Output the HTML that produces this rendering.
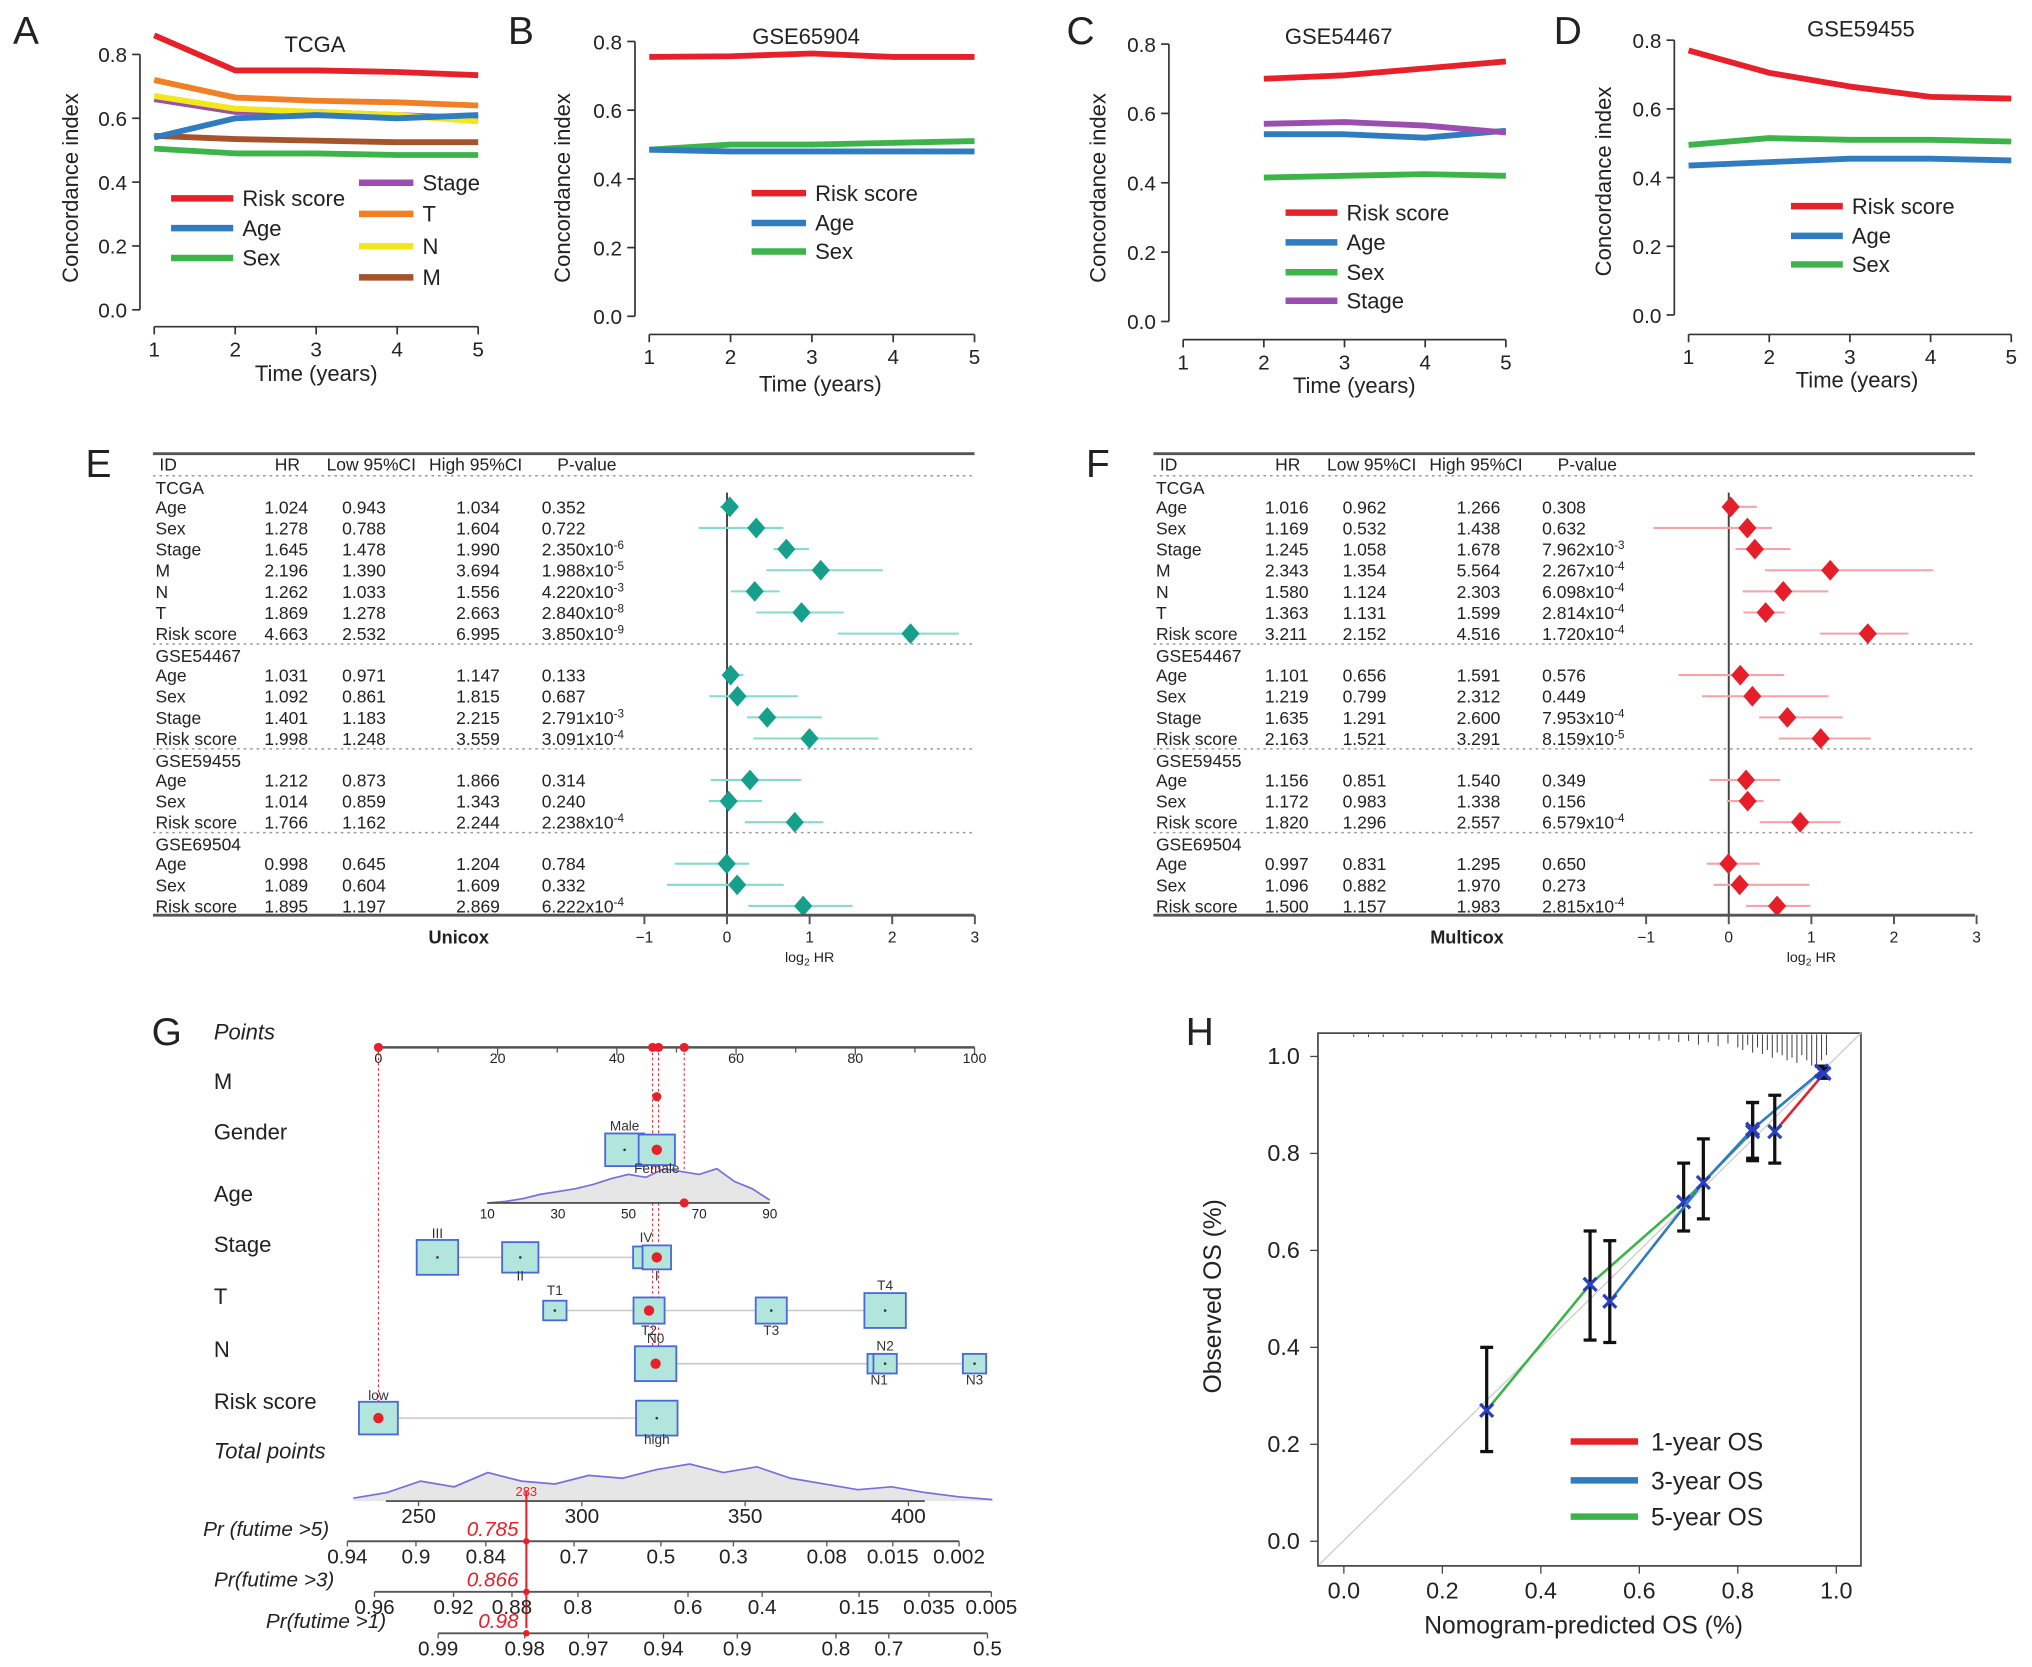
<!DOCTYPE html>
<html><head><meta charset="utf-8"><title>Prognostic model figure</title>
<style>
html,body{margin:0;padding:0;background:#fff;}
svg{display:block;font-family:"Liberation Sans",Arial,sans-serif;}
</style></head>
<body>
<svg id="fig" xmlns="http://www.w3.org/2000/svg" width="2032" height="1667" viewBox="0 0 1568 1286" preserveAspectRatio="none"></svg>
<script>
// ===== Panel A-D data =====
const years=[1,2,3,4,5];
const yearsC=[2,3,4,5];
const yTicks=[0,0.2,0.4,0.6,0.8];
const aRisk=[0.86,0.75,0.75,0.745,0.735];
const aStage=[0.66,0.62,0.62,0.61,0.60];
const aT=[0.72,0.665,0.655,0.65,0.64];
const aN=[0.67,0.63,0.62,0.61,0.59];
const aM=[0.545,0.535,0.53,0.525,0.525];
const aAge=[0.54,0.60,0.61,0.60,0.61];
const aSex=[0.505,0.49,0.49,0.485,0.485];
const bRisk=[0.755,0.757,0.765,0.755,0.755];
const bAge=[0.485,0.48,0.48,0.48,0.48];
const bSex=[0.485,0.50,0.50,0.505,0.51];
const cRisk=[0.70,0.71,0.73,0.75];
const cStage=[0.57,0.575,0.565,0.545];
const cAge=[0.54,0.54,0.53,0.55];
const cSex=[0.415,0.42,0.425,0.42];
const dRisk=[0.77,0.705,0.665,0.635,0.63];
const dSex=[0.495,0.515,0.51,0.51,0.505];
const dAge=[0.435,0.445,0.455,0.455,0.45];

// ===== Panel E/F data =====
const groupNames=['TCGA','GSE54467','GSE59455','GSE69504'];
const groupSizes=[7,4,3,3];
const rowIds=['Age','Sex','Stage','M','N','T','Risk score','Age','Sex','Stage','Risk score','Age','Sex','Risk score','Age','Sex','Risk score'];
const eHR=[1.024,1.278,1.645,2.196,1.262,1.869,4.663,1.031,1.092,1.401,1.998,1.212,1.014,1.766,0.998,1.089,1.895];
const eLo=[0.943,0.788,1.478,1.390,1.033,1.278,2.532,0.971,0.861,1.183,1.248,0.873,0.859,1.162,0.645,0.604,1.197];
const eHi=[1.034,1.604,1.990,3.694,1.556,2.663,6.995,1.147,1.815,2.215,3.559,1.866,1.343,2.244,1.204,1.609,2.869];
const eP=['0.352','0.722','2.350x10^-6','1.988x10^-5','4.220x10^-3','2.840x10^-8','3.850x10^-9','0.133','0.687','2.791x10^-3','3.091x10^-4','0.314','0.240','2.238x10^-4','0.784','0.332','6.222x10^-4'];
const fHR=[1.016,1.169,1.245,2.343,1.580,1.363,3.211,1.101,1.219,1.635,2.163,1.156,1.172,1.820,0.997,1.096,1.500];
const fLo=[0.962,0.532,1.058,1.354,1.124,1.131,2.152,0.656,0.799,1.291,1.521,0.851,0.983,1.296,0.831,0.882,1.157];
const fHi=[1.266,1.438,1.678,5.564,2.303,1.599,4.516,1.591,2.312,2.600,3.291,1.540,1.338,2.557,1.295,1.970,1.983];
const fP=['0.308','0.632','7.962x10^-3','2.267x10^-4','6.098x10^-4','2.814x10^-4','1.720x10^-4','0.576','0.449','7.953x10^-4','8.159x10^-5','0.349','0.156','6.579x10^-4','0.650','0.273','2.815x10^-4'];
const forestTicks=[-1,0,1,2,3];

// ===== Panel G data =====
const pointTicks=[0,20,40,60,80,100];
const selPoints=[0,46,47,51.3];
const stageLv=['III','II','IV','I'];
const stagePts=[9.9,23.8,44.9,46.7];
const tLv=['T1','T2','T3','T4'];
const tPts=[29.6,45.4,65.9,85];
const nLv=['N0','N1','N2','N3'];
const nPts=[46.5,84,85,100];
const riskLv=['low','high'];
const riskPts=[0,46.7];
const genderLv=['Male','Female'];
const genderPts=[41.3,46.7];
const ageTicks=[10,30,50,70,90];
const ageDens=[0,1,3,6,8,10,13,17,20,18,24,22,20,24,15,10,2];
const totalTicks=[250,300,350,400];
const totalDens=[2,6,14,10,20,14,12,18,16,22,26,20,24,16,12,8,10,6,3,1];
const totalSel=283;
const pr5Lab=['0.94','0.9','0.84','0.7','0.5','0.3','0.08','0.015','0.002'];
const pr5Tp=[228.2,249.2,270.6,297.6,324.2,346.4,375,395.2,415.5];
const pr3Lab=['0.96','0.92','0.88','0.8','0.6','0.4','0.15','0.035','0.005'];
const pr3Tp=[236.5,260.7,278.6,298.8,332.5,355.2,384.9,406.3,425.4];
const pr1Lab=['0.99','0.98','0.97','0.94','0.9','0.8','0.7','0.5'];
const pr1Tp=[256,282.5,302,325,347.6,377.8,394,424.2];

// ===== Panel H data =====
const hTicks=[0,0.2,0.4,0.6,0.8,1.0];
const h5Pred=[0.29,0.50,0.69,0.83];
const h5Obs=[0.27,0.53,0.70,0.845];
const h5Lo=[0.185,0.415,0.64,0.785];
const h5Hi=[0.40,0.64,0.78,0.905];
const h3Pred=[0.54,0.73,0.83,0.97];
const h3Obs=[0.495,0.74,0.85,0.97];
const h3Lo=[0.41,0.665,0.79,0.96];
const h3Hi=[0.62,0.83,0.905,0.98];
const h1Pred=[0.875,0.975];
const h1Obs=[0.845,0.965];
const h1Lo=[0.78,0.955];
const h1Hi=[0.92,0.975];
const rugPred=[0.02,0.05,0.08,0.12,0.16,0.2,0.24,0.27,0.3,0.33,0.36,0.39,0.42,0.45,0.48,0.5,0.52,0.55,0.58,0.6,0.62,0.64,0.66,0.68,0.7,0.72,0.74,0.76,0.78,0.8,0.81,0.82,0.83,0.84,0.85,0.86,0.87,0.88,0.89,0.9,0.91,0.92,0.93,0.94,0.95,0.96,0.97,0.98];
const rugLen=[2,2,2,2,2,2,2,2,3,2,2,3,2,3,2,4,3,3,4,3,4,5,4,6,5,8,6,9,7,10,12,8,14,10,15,12,18,14,16,20,18,22,16,20,24,26,20,16];

const NS='http://www.w3.org/2000/svg';
const svg=document.getElementById('fig');
function mk(tag,attrs,parent){const e=document.createElementNS(NS,tag);for(const k in attrs)e.setAttribute(k,attrs[k]);(parent||svg).appendChild(e);return e;}
function tx(s,x,y,size,opts,parent){const e=mk('text',Object.assign({x:x,y:y,'font-size':size,fill:'#222'},opts||{}),parent);e.textContent=s;return e;}

const C={red:'#e8202a',blue:'#2f7cc0',green:'#3cb44a',purple:'#9a4fb0',orange:'#f08023',yellow:'#f2e61d',brown:'#a5532b'};

// ---------- line panels ----------
function linePanel(p){
  const g=mk('g',{});
  
  
  const xs=v=>p.x1+(v-1)*(p.x5-p.x1)/4;
  const ys=v=>p.y0-v*(p.y0-p.y8)/0.8;
  const ax=mk('line',{x1:p.axX,y1:ys(0),x2:p.axX,y2:ys(0.8),stroke:'#333','stroke-width':1.3},g);
  
  
  yTicks.forEach(v=>{
    mk('line',{x1:p.axX-6,y1:ys(v),x2:p.axX,y2:ys(v),stroke:'#333','stroke-width':1.3},g);
    const t=tx(v.toFixed(1),p.axX-10,ys(v)+6,16,{'text-anchor':'end'},g);
    
    
  });
  const bx=mk('line',{x1:xs(1),y1:p.axY,x2:xs(5),y2:p.axY,stroke:'#333','stroke-width':1.3},g);
  
  
  years.forEach(v=>{
    mk('line',{x1:xs(v),y1:p.axY,x2:xs(v),y2:p.axY+6,stroke:'#333','stroke-width':1.3},g);
    const t=tx(String(v),xs(v),p.axY+23,16,{'text-anchor':'middle'},g);
    
    
  });
  const xl=tx('Time (years)',p.xlX,p.xlY,17,{'text-anchor':'middle'},g);
  
  
  const yl=tx('Concordance index',0,0,17,{'text-anchor':'middle',transform:'translate('+p.ylX+','+p.ylY+') rotate(-90)'},g);
  
  
  const ti=tx(p.title,p.tX,p.tY,17,{'text-anchor':'middle'},g);
  
  
  const lt=tx(p.letter,p.lX,p.lY,30,{},g);
  
  
  p.series.forEach(s=>{
    const pts=s.vals.map((v,i)=>xs(s.x[i])+','+ys(v)).join(' ');
    const pl=mk('polyline',{points:pts,fill:'none',stroke:s.color,'stroke-width':4.5,'stroke-linejoin':'round'},g);
    
    
  });
  p.legend.forEach(l=>{
    const le=mk('g',{},g);
    
    
    mk('line',{x1:l.x,y1:l.y,x2:l.x+l.w,y2:l.y,stroke:l.color,'stroke-width':5},le);
    tx(l.label,l.x+l.w+7,l.y+6,17,{},le);
  });
}
linePanel({name:'panel-a-tcga',letter:'A',lX:10,lY:34,title:'TCGA',tX:243,tY:40,x1:119,x5:369,y0:239,y8:42,axX:108,axY:252,xlX:244,xlY:294,ylX:60,ylY:145,
 series:[{key:'stage',x:years,vals:aStage,color:C.purple},{key:'n',x:years,vals:aN,color:C.yellow},{key:'m',x:years,vals:aM,color:C.brown},{key:'age',x:years,vals:aAge,color:C.blue},{key:'sex',x:years,vals:aSex,color:C.green},{key:'t',x:years,vals:aT,color:C.orange},{key:'risk',x:years,vals:aRisk,color:C.red}],
 legend:[{label:'Risk score',x:132,y:153,w:48,color:C.red},{label:'Age',x:132,y:176,w:48,color:C.blue},{label:'Sex',x:132,y:199,w:48,color:C.green},{label:'Stage',x:277,y:141,w:42,color:C.purple},{label:'T',x:277,y:165,w:42,color:C.orange},{label:'N',x:277,y:190,w:42,color:C.yellow},{label:'M',x:277,y:214,w:42,color:C.brown}]});
linePanel({name:'panel-b-gse65904',letter:'B',lX:392,lY:34,title:'GSE65904',tX:622,tY:34,x1:501,x5:752,y0:244,y8:32,axX:490,axY:258,xlX:633,xlY:302,ylX:440,ylY:145,
 series:[{key:'sex',x:years,vals:bSex,color:C.green},{key:'age',x:years,vals:bAge,color:C.blue},{key:'risk',x:years,vals:bRisk,color:C.red}],
 legend:[{label:'Risk score',x:580,y:149,w:42,color:C.red},{label:'Age',x:580,y:172,w:42,color:C.blue},{label:'Sex',x:580,y:194,w:42,color:C.green}]});
linePanel({name:'panel-c-gse54467',letter:'C',lX:823,lY:34,title:'GSE54467',tX:1033,tY:34,x1:913,x5:1162,y0:248,y8:34,axX:902,axY:262,xlX:1045,xlY:303,ylX:853,ylY:145,
 series:[{key:'sex',x:yearsC,vals:cSex,color:C.green},{key:'age',x:yearsC,vals:cAge,color:C.blue},{key:'stage',x:yearsC,vals:cStage,color:C.purple},{key:'risk',x:yearsC,vals:cRisk,color:C.red}],
 legend:[{label:'Risk score',x:992,y:164,w:40,color:C.red},{label:'Age',x:992,y:187,w:40,color:C.blue},{label:'Sex',x:992,y:210,w:40,color:C.green},{label:'Stage',x:992,y:232,w:40,color:C.purple}]});
linePanel({name:'panel-d-gse59455',letter:'D',lX:1199,lY:34,title:'GSE59455',tX:1436,tY:28,x1:1303,x5:1552,y0:243,y8:31,axX:1292,axY:258,xlX:1433,xlY:299,ylX:1243,ylY:140,
 series:[{key:'sex',x:years,vals:dSex,color:C.green},{key:'age',x:years,vals:dAge,color:C.blue},{key:'risk',x:years,vals:dRisk,color:C.red}],
 legend:[{label:'Risk score',x:1382,y:159,w:40,color:C.red},{label:'Age',x:1382,y:182,w:40,color:C.blue},{label:'Sex',x:1382,y:204,w:40,color:C.green}]});

// ---------- forest panels ----------
function pText(s,x,y,parent){
  const t=tx('',x,y,13.5,{},parent);
  const parts=s.split('^');
  const a=document.createElementNS(NS,'tspan');a.textContent=parts[0];t.appendChild(a);
  if(parts[1]){const b=document.createElementNS(NS,'tspan');b.setAttribute('dy',-5);b.setAttribute('font-size',9);b.textContent=parts[1];t.appendChild(b);}
  return t;
}
function forest(p){
  const g=mk('g',{});
  
  
  const o=p.ox;
  const xs=v=>p.zero+v*63.75;
  const lt=tx(p.letter,o+66,368,30,{},g);
  
  
  mk('line',{x1:o+118,y1:350,x2:o+752,y2:350,stroke:'#555','stroke-width':2.2},g);
  [['ID',123],['HR',212],['Low 95%CI',252],['High 95%CI',331],['P-value',430]].forEach(h=>{
    const t=tx(h[0],o+h[1],363,13.5,{},g);
    
    
  });
  mk('line',{x1:o+118,y1:367,x2:o+752,y2:367,stroke:'#999','stroke-width':1.2,'stroke-dasharray':'2,3'},g);
  let y=376, idx=0;
  const rowY=[];
  groupNames.forEach((gn,gi)=>{
    const gt=tx(gn,o+120,y+5,13.5,{},g);
    
    
    let ry=y+15;
    for(let k=0;k<groupSizes[gi];k++){rowY[idx]=ry;idx++;ry+=16.3;}
    const last=ry-16.3;
    if(gi<groupNames.length-1){
      mk('line',{x1:o+118,y1:last+8,x2:o+752,y2:last+8,stroke:'#999','stroke-width':1.2,'stroke-dasharray':'2,3'},g);
      y=last+17;
    }
  });
  mk('line',{x1:xs(0),y1:380,x2:xs(0),y2:706,stroke:'#444','stroke-width':1.5},g);
  rowIds.forEach((id,i)=>{
    const ry=rowY[i];
    const r=mk('g',{},g);
    
    
    tx(id,o+120,ry+5,13.5,{},r);
    tx(p.hr[i].toFixed(3),o+204,ry+5,13.5,{},r);
    tx(p.lo[i].toFixed(3),o+264,ry+5,13.5,{},r);
    tx(p.hi[i].toFixed(3),o+352,ry+5,13.5,{},r);
    pText(p.pv[i],o+418,ry+5,r);
    const ci=mk('line',{x1:xs(Math.log2(p.lo[i])),y1:ry,x2:xs(Math.log2(p.hi[i])),y2:ry,stroke:p.ciColor,'stroke-width':1.6},r);
    
    
    const cx=xs(Math.log2(p.hr[i]));
    const d=mk('polygon',{points:(cx-7)+','+ry+' '+cx+','+(ry-8)+' '+(cx+7)+','+ry+' '+cx+','+(ry+8),fill:p.color},r);
    
    
  });
  mk('line',{x1:o+118,y1:706,x2:o+752,y2:706,stroke:'#555','stroke-width':2.2},g);
  forestTicks.forEach(v=>{
    mk('line',{x1:xs(v),y1:706,x2:xs(v),y2:713,stroke:'#555','stroke-width':1.5},g);
    const t=tx(v<0?'\u22121':String(v),xs(v),727,12,{'text-anchor':'middle'},g);
    
    
  });
  const xl=tx('',xs(1),742,11,{'text-anchor':'middle'},g);
  xl.innerHTML='log<tspan font-size="8" dy="3">2</tspan><tspan dy="-3"> HR</tspan>';
  
  
  const mt=tx(p.method,o+p.methodX,728,14,{'text-anchor':'middle','font-weight':'bold'},g);
  
  
}
forest({name:'panel-e-unicox',letter:'E',ox:0,zero:561,hr:eHR,lo:eLo,hi:eHi,pv:eP,color:'#16a08c',ciColor:'#86dccb',method:'Unicox',methodX:354});
forest({name:'panel-f-multicox',letter:'F',ox:772,zero:1334,hr:fHR,lo:fLo,hi:fHi,pv:fP,color:'#e61e2a',ciColor:'#f5a3a6',method:'Multicox',methodX:360});

// ---------- nomogram ----------
(function(){
  const g=mk('g',{});
  
  
  const px=v=>292+v*4.6;
  const tpx=v=>323+(v-250)*2.52;
  const L=tx('G',117,806,30,{},g);
  
  
  [['Points',802,true],['M',840,false],['Gender',879,false],['Age',927,false],['Stage',966,false],['T',1006,false],['N',1047,false],['Risk score',1087,false],['Total points',1125,true]].forEach(r=>{
    const t=tx(r[0],165,r[1],17,r[2]?{'font-style':'italic'}:{},g);
    
    
  });
  mk('line',{x1:px(0),y1:808,x2:px(100),y2:808,stroke:'#555','stroke-width':2},g);
  for(let v=0;v<=100;v+=10) mk('line',{x1:px(v),y1:808,x2:px(v),y2:v%20?812:814,stroke:'#555','stroke-width':1},g);
  pointTicks.forEach(v=>{const t=tx(String(v),px(v),820,11,{'text-anchor':'middle'},g);
    
    });
  selPoints.forEach(v=>{
    mk('line',{x1:px(v),y1:808,x2:px(v),y2:v===0?1094:(v>50?928:1055),stroke:'#e8202a','stroke-width':0.8,'stroke-dasharray':'2,2'},g);
    const d=mk('circle',{cx:px(v),cy:808,r:3.5,fill:'#e8202a'},g);
    
    
  });
  function box(x,y,s,sel){
    const b=mk('rect',{x:x-s/2,y:y-s*0.42,width:s,height:s*0.84,fill:'#b2e6dc',stroke:'#4a68dc','stroke-width':1.4},g);
    
    
    mk('circle',{cx:x,cy:y,r:1,fill:'#333'},g);
    if(sel){const c=mk('circle',{cx:x,cy:y,r:4,fill:'#e8202a'},g);
      
      }
  }
  function lvRow(lv,pts,y,sizes,sel,labOff){
    mk('line',{x1:px(Math.min(...pts)),y1:y,x2:px(Math.max(...pts)),y2:y,stroke:'#c8c8c8','stroke-width':1.2},g);
    pts.forEach((v,i)=>{box(px(v),y,sizes[i],i===sel);
      const t=tx(lv[i],px(v),y+labOff[i],10.5,{'text-anchor':'middle',fill:'#333'},g);
      
      });
  }
  const m=mk('circle',{cx:px(46.7),cy:846,r:3.5,fill:'#e8202a'},g);
  
  
  // age density (drawn before gender boxes so boxes sit on top)
  const ax=v=>376+(v-10)*2.725;
  const dpts=ageDens.map((h,i)=>ax(10+i*5)+','+(928-h*1.1));
  mk('polygon',{points:ax(10)+',928 '+dpts.join(' ')+' '+ax(90)+',928',fill:'#e6e6e6',stroke:'none'},g);
  const al=mk('polyline',{points:dpts.join(' '),fill:'none',stroke:'#7a6de0','stroke-width':1.3},g);
  
  
  mk('line',{x1:ax(10),y1:928,x2:ax(90),y2:928,stroke:'#555','stroke-width':1.5},g);
  ageTicks.forEach(v=>{tx(String(v),ax(v),940,10.5,{'text-anchor':'middle'},g);});
  mk('circle',{cx:px(51.3),cy:928,r:3.5,fill:'#e8202a'},g);
  lvRow(genderLv,genderPts,887,[30,28],1,[-15,18]);
  lvRow(stageLv,stagePts,970,[32,28,20,22],3,[-15,18,-12,18]);
  lvRow(tLv,tPts,1011,[18,24,24,32],1,[-12,19,19,-16]);
  lvRow(nLv,nPts,1052,[32,18,18,18],0,[-16,16,-10,16]);
  lvRow(riskLv,riskPts,1094,[30,32],0,[-14,20]);
  // total points density
  const tdp=totalDens.map((h,i)=>tpx(230+i*10.3)+','+(1158-h*1.1));
  mk('polygon',{points:tpx(230)+',1158 '+tdp.join(' ')+' '+tpx(425.7)+',1158',fill:'#e6e6e6'},g);
  const tl=mk('polyline',{points:tdp.join(' '),fill:'none',stroke:'#7a6de0','stroke-width':1.3},g);
  
  
  mk('line',{x1:tpx(240),y1:1158,x2:tpx(405),y2:1158,stroke:'#555','stroke-width':1.5},g);
  totalTicks.forEach(v=>{
    mk('line',{x1:tpx(v),y1:1158,x2:tpx(v),y2:1162,stroke:'#555'},g);
    const t=tx(String(v),tpx(v),1175,16,{'text-anchor':'middle'},g);
    
    
  });
  tx(String(totalSel),tpx(totalSel),1154,10,{'text-anchor':'middle',fill:'#e8202a'},g);
  const vl=mk('line',{x1:tpx(totalSel),y1:1150,x2:tpx(totalSel),y2:1256,stroke:'#e8202a','stroke-width':1.6},g);
  
  
  function prAxis(lab,tp,y,name,nameX,val){
    mk('line',{x1:tpx(tp[0]),y1:y,x2:tpx(tp[tp.length-1]),y2:y,stroke:'#555','stroke-width':1.5},g);
    tp.forEach((v,i)=>{mk('line',{x1:tpx(v),y1:y,x2:tpx(v),y2:y+4,stroke:'#555'},g);
      const t=tx(lab[i],tpx(v),y+17,16,{'text-anchor':'middle'},g);
      
      });
    const n=tx(name,nameX,y-4,16,{'font-style':'italic','text-anchor':'end'},g);
    
    
    tx(val,tpx(totalSel)-6,y-4,16,{'font-style':'italic','text-anchor':'end',fill:'#e8202a'},g);
    mk('circle',{cx:tpx(totalSel),cy:y,r:2.5,fill:'#e8202a'},g);
  }
  prAxis(pr5Lab,pr5Tp,1189,'Pr (futime >5)',254,'0.785');
  prAxis(pr3Lab,pr3Tp,1228,'Pr(futime >3)',258,'0.866');
  prAxis(pr1Lab,pr1Tp,1260,'Pr(futime >1)',298,'0.98');
})();

// ---------- calibration ----------
(function(){
  const g=mk('g',{});
  
  
  const xs=v=>1037+v*380, ys=v=>1189-v*374;
  const L=tx('H',915,806,30,{},g);
  
  
  const fr=mk('rect',{x:1017,y:797,width:419,height:411,fill:'none',stroke:'#444','stroke-width':1.3},g);
  
  
  hTicks.forEach(v=>{
    mk('line',{x1:xs(v),y1:1208,x2:xs(v),y2:1214,stroke:'#444'},g);
    const a=tx(v.toFixed(1),xs(v),1233,18,{'text-anchor':'middle'},g);
    
    
    mk('line',{x1:1011,y1:ys(v),x2:1017,y2:ys(v),stroke:'#444'},g);
    const b=tx(v.toFixed(1),1003,ys(v)+6,18,{'text-anchor':'end'},g);
    
    
  });
  const xl=tx('Nomogram-predicted OS (%)',1222,1260,19,{'text-anchor':'middle'},g);
  
  
  const yl=tx('Observed OS (%)',0,0,19,{'text-anchor':'middle',transform:'translate(942,1000) rotate(-90)'},g);
  
  
  mk('line',{x1:1018,y1:1207,x2:1436,y2:797,stroke:'#ccc','stroke-width':1},g);
  rugPred.forEach((v,i)=>{const r=mk('line',{x1:xs(v),y1:798,x2:xs(v),y2:798+rugLen[i],stroke:'#444','stroke-width':0.8},g);
    
    });
  function series(pred,obs,lo,hi,color,key){
    const pl=mk('polyline',{points:pred.map((p,i)=>xs(p)+','+ys(obs[i])).join(' '),fill:'none',stroke:color,'stroke-width':2},g);
    
    
    pred.forEach((p,i)=>{
      const e=mk('line',{x1:xs(p),y1:ys(lo[i]),x2:xs(p),y2:ys(hi[i]),stroke:'#111','stroke-width':2.5},g);
      
      
      mk('line',{x1:xs(p)-5,y1:ys(lo[i]),x2:xs(p)+5,y2:ys(lo[i]),stroke:'#111','stroke-width':2.5},g);
      mk('line',{x1:xs(p)-5,y1:ys(hi[i]),x2:xs(p)+5,y2:ys(hi[i]),stroke:'#111','stroke-width':2.5},g);
      const x=xs(p),y=ys(obs[i]);
      const m=mk('path',{d:'M'+(x-5)+','+(y-5)+'L'+(x+5)+','+(y+5)+'M'+(x+5)+','+(y-5)+'L'+(x-5)+','+(y+5),stroke:'#2a3fbf','stroke-width':2.5},g);
      
      
    });
  }
  series(h5Pred,h5Obs,h5Lo,h5Hi,C.green,'5-year');
  series(h3Pred,h3Obs,h3Lo,h3Hi,C.blue,'3-year');
  series(h1Pred,h1Obs,h1Lo,h1Hi,C.red,'1-year');
  [['1-year OS',1112,C.red],['3-year OS',1142,C.blue],['5-year OS',1170,C.green]].forEach(l=>{
    const le=mk('g',{},g);
    
    
    mk('line',{x1:1212,y1:l[1],x2:1264,y2:l[1],stroke:l[2],'stroke-width':5},le);
    tx(l[0],1274,l[1]+7,19,{},le);
  });
})();
</script>
</body></html>
